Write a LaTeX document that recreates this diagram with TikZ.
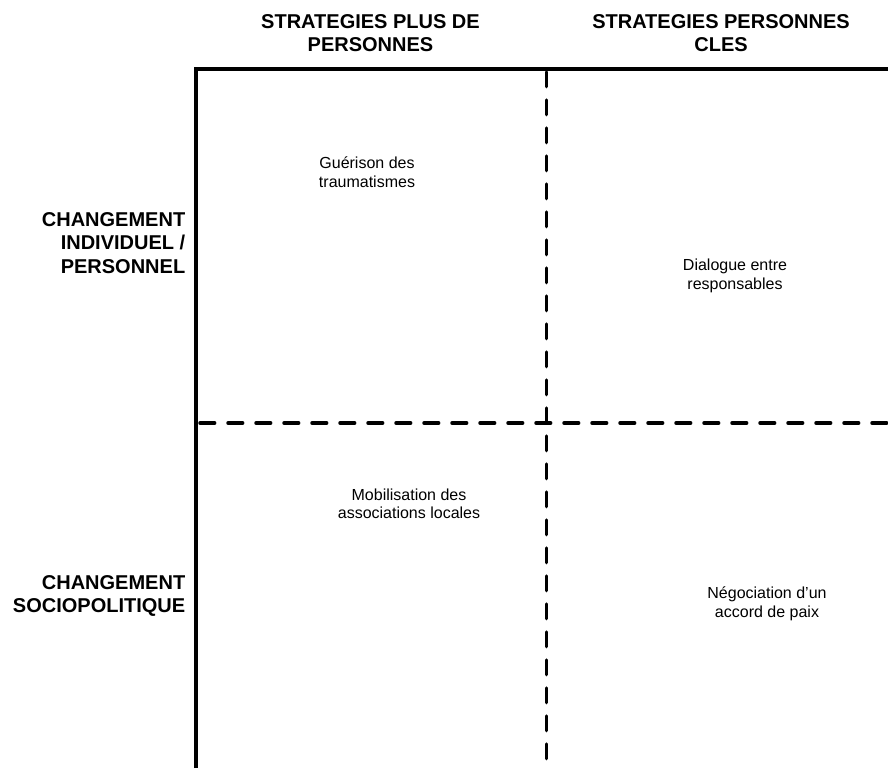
\documentclass[tikz,border=0pt]{standalone}
\usepackage{fontspec}
\setmainfont{Liberation Sans}

\begin{document}
\begin{tikzpicture}[x=0.75pt,y=-0.75pt]
\tikzstyle{every node}+=[inner sep=0pt]
\tikzstyle{axis}=[black,line width=3pt,line join=miter]
\tikzstyle{split}=[black,line width=2.6pt,line cap=round,dash pattern=on 11pt off 10pt]
\tikzstyle{head}=[font=\fontsize{15}{17.6}\selectfont\bfseries,align=center]
\tikzstyle{side}=[font=\fontsize{15}{17.6}\selectfont\bfseries,align=right,anchor=east]
\tikzstyle{cell}=[font=\fontsize{12}{13.9}\selectfont,align=center]
\useasboundingbox (0,0) rectangle (888,768);
\coordinate (corner) at (195.5,68.7);
\coordinate (axisbot) at (195.5,768);
\coordinate (axisright) at (888,68.7);
\coordinate (midtop) at (546.5,72);
\coordinate (midbot) at (546.5,768);
\coordinate (midleft) at (200,423);
\coordinate (midright) at (888,423);
\draw [axis] (axisbot) -- (corner) -- (axisright);
\draw [split] (midtop) -- (midbot);
\draw [split] (midleft) -- (midright);
\node [head] (plus) at (370.5,33) {STRATEGIES PLUS DE\\PERSONNES};
\node [head] (cles) at (721,33) {STRATEGIES PERSONNES\\CLES};
\node [side] (indiv) at (185.5,243) {CHANGEMENT\\INDIVIDUEL /\\PERSONNEL};
\node [side] (socio) at (185.5,596) {CHANGEMENT\\SOCIOPOLITIQUE};
\node [cell] (gueri) at (367,172) {Guérison des\\traumatismes};
\node [cell] (dialog) at (735,276) {Dialogue entre\\responsables};
\node [cell] (mobil) at (409,504) {Mobilisation des\\associations locales};
\node [cell] (nego) at (767,604) {Négociation d’un\\accord de paix};
\end{tikzpicture}
\end{document}
